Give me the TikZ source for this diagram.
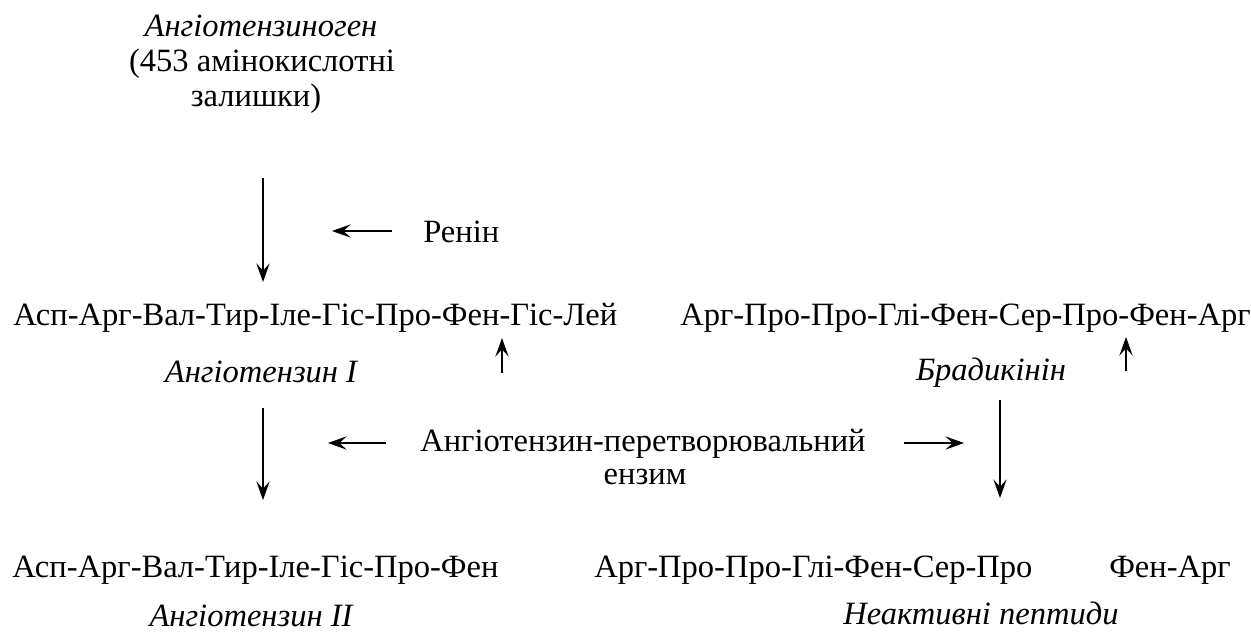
\documentclass[tikz,border=0pt]{standalone}
\usepackage{fontspec}
\setmainfont{Liberation Serif}
\usetikzlibrary{arrows.meta}

\begin{document}
\begin{tikzpicture}[x=0.75pt,y=-0.75pt,
  pep/.style={inner sep=0pt,anchor=base,font=\fontsize{24.4}{28}\selectfont},
  nm/.style={pep,font=\fontsize{24.4}{28}\selectfont\itshape},
  arr/.style={-{Stealth[length=14pt,width=10pt,inset=5.5pt]},line width=1pt}]
\useasboundingbox (0,0) rectangle (1251,632);
% precursor
\node[nm]  (agen)  at (261,36)  {Ангіотензиноген};
\node[pep] (agen2) at (262,71)  {(453 амінокислотні};
\node[pep] (agen3) at (256,106) {залишки)};
\node[pep,anchor=base west] (renin) at (423,242) {Ренін};
% first row
\node[pep,anchor=base west] (ang1) at (13,325)  {Асп-Арг-Вал-Тир-Іле-Гіс-Про-Фен-Гіс-Лей};
\node[pep,anchor=base west] (brad) at (680,325) {Арг-Про-Про-Глі-Фен-Сер-Про-Фен-Арг};
\node[nm] (ang1n) at (261,382) {Ангіотензин I};
\node[nm] (bradn) at (991,380) {Брадикінін};
% enzyme
\node[pep] (ace)  at (643,451) {Ангіотензин-перетворювальний};
\node[pep] (ace2) at (645,484) {ензим};
% products
\node[pep,anchor=base west] (ang2) at (12,577)  {Асп-Арг-Вал-Тир-Іле-Гіс-Про-Фен};
\node[pep,anchor=base west] (frag) at (594,577) {Арг-Про-Про-Глі-Фен-Сер-Про};
\node[pep,anchor=base west] (dip)  at (1109,577) {Фен-Арг};
\node[nm] (ang2n) at (251,626) {Ангіотензин II};
\node[nm] (inact) at (981,624) {Неактивні пептиди};
% arrow ends
\coordinate (a1) at (263,178); \coordinate (a2) at (263,282);
\coordinate (r1) at (392,231); \coordinate (r2) at (332,231);
\coordinate (c1) at (502,373); \coordinate (c2) at (502,338);
\coordinate (d1) at (1126,371); \coordinate (d2) at (1126,337);
\coordinate (b1) at (263,408); \coordinate (b2) at (263,500);
\coordinate (e1) at (386,443); \coordinate (e2) at (328,443);
\coordinate (f1) at (904,443); \coordinate (f2) at (964,443);
\coordinate (g1) at (1000,400); \coordinate (g2) at (1000,498);
\foreach \s/\t in {a1/a2,r1/r2,c1/c2,d1/d2,b1/b2,e1/e2,f1/f2,g1/g2}
  \draw[arr] (\s) -- (\t);
\end{tikzpicture}
\end{document}
